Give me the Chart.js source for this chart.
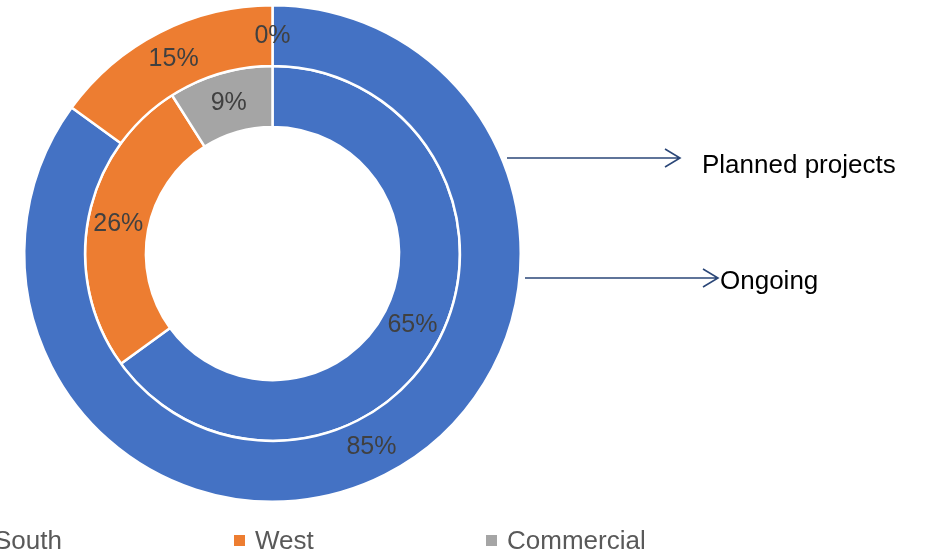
<!DOCTYPE html>
<html>
<head>
<meta charset="utf-8">
<script src="https://cdn.jsdelivr.net/npm/chart.js@4"></script>
<style>
  html, body { margin:0; padding:0; background:#fff; overflow:hidden; }
  #chart { display:block; }
</style>
</head>
<body>
<canvas id="chart" width="935" height="554" style="width:935px;height:554px"></canvas>
<script>
// data
const categories = ['South', 'West', 'Commercial'];
const seriesNames = ['Planned projects', 'Ongoing'];
const plannedValues = [85, 15, 0];   // outer ring
const ongoingValues = [65, 26, 9];   // inner ring
const colors = ['#4472C4', '#ED7D31', '#A5A5A5'];

const FONT = '"Liberation Sans", Arial, sans-serif';

// percentage labels on each slice
const sliceLabels = {
  id: 'sliceLabels',
  afterDatasetsDraw(chart){
    const ctx = chart.ctx;
    ctx.save();
    ctx.font = '25px ' + FONT;
    ctx.fillStyle = '#404040';
    ctx.textAlign = 'center';
    ctx.textBaseline = 'middle';
    chart.data.datasets.forEach((ds, di)=>{
      chart.getDatasetMeta(di).data.forEach((arc, i)=>{
        const p = arc.tooltipPosition();
        ctx.fillText(ds.data[i] + '%', p.x, p.y);
      });
    });
    ctx.restore();
  }
};

// arrows pointing at the rings + legend along the bottom
const callouts = {
  id: 'callouts',
  afterDraw(chart){
    const ctx = chart.ctx;
    ctx.save();
    const arrow = (x1, x2, y)=>{
      ctx.strokeStyle = '#2B4778';
      ctx.lineWidth = 1.6;
      ctx.beginPath();
      ctx.moveTo(x1, y); ctx.lineTo(x2, y);
      ctx.moveTo(x2 - 15, y - 9); ctx.lineTo(x2, y); ctx.lineTo(x2 - 15, y + 9);
      ctx.stroke();
    };
    arrow(507, 680, 158);
    arrow(525, 718, 278);
    ctx.fillStyle = '#000';
    ctx.font = '26px ' + FONT;
    ctx.textAlign = 'left';
    ctx.textBaseline = 'alphabetic';
    ctx.fillText(seriesNames[0], 702, 173);
    ctx.fillText(seriesNames[1], 720, 289);

    // legend
    const textX = [-6, 255, 507];
    ctx.font = '26px ' + FONT;
    chart.data.labels.forEach((lab, i)=>{
      ctx.fillStyle = colors[i];
      ctx.fillRect(textX[i] - 21, 535, 11, 11);
      ctx.fillStyle = '#595959';
      ctx.fillText(lab, textX[i], 549);
    });
    ctx.restore();
  }
};

new Chart(document.getElementById('chart'), {
  type: 'doughnut',
  data: {
    labels: categories,
    datasets: [
      { label: seriesNames[0], data: plannedValues, backgroundColor: colors, borderColor: '#fff', borderWidth: 2.5 },
      { label: seriesNames[1], data: ongoingValues, backgroundColor: colors, borderColor: '#fff', borderWidth: 2.5 }
    ]
  },
  options: {
    responsive: false,
    animation: false,
    cutout: '51%',
    layout: { padding: { left: 23, top: 4, right: 413, bottom: 51 } },
    plugins: { legend: { display: false }, tooltip: { enabled: false } }
  },
  plugins: [sliceLabels, callouts]
});
</script>
</body>
</html>
